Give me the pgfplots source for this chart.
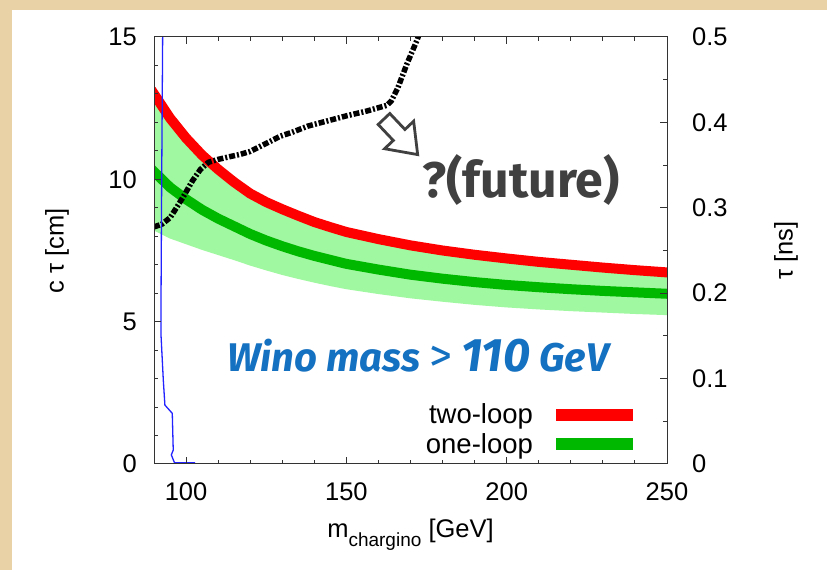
\documentclass[border=0pt]{standalone}
\usepackage{pgfplots}
\pgfplotsset{compat=1.18}
\usepackage{fontspec}
\setmainfont{Liberation Sans}
\newfontfamily\handfont{Fira Sans}
\definecolor{parch}{HTML}{E8D2A6}
\definecolor{lgreen}{HTML}{A0F8A0}
\definecolor{dgreen}{HTML}{00B800}
\definecolor{winoblue}{HTML}{1470C0}
\definecolor{futgray}{HTML}{404040}
\definecolor{axgray}{HTML}{333333}
\definecolor{lineblue}{HTML}{2222FF}

% light band: lower edge forward, then upper edge (= two-loop centre) backward
\pgfplotstableread{
m    c
90   8.20
95   7.92
100  7.72
105  7.52
110  7.34
115  7.16
120  6.97
125  6.80
130  6.64
135  6.50
140  6.37
145  6.25
150  6.14
160  5.97
170  5.82
180  5.70
190  5.59
200  5.50
210  5.43
220  5.37
230  5.32
240  5.27
250  5.23
250  6.73
240  6.81
230  6.90
220  7.00
210  7.10
200  7.22
190  7.35
180  7.50
170  7.68
160  7.90
150  8.15
145  8.32
140  8.50
135  8.72
130  8.95
125  9.20
120  9.50
115  9.90
110  10.35
105  10.85
100  11.45
95   12.15
90   13.00
}\band

\pgfplotstableread{
m    c
90   13.00
95   12.15
100  11.45
105  10.85
110  10.35
115  9.90
120  9.50
125  9.20
130  8.95
135  8.72
140  8.50
145  8.32
150  8.15
160  7.90
170  7.68
180  7.50
190  7.35
200  7.22
210  7.10
220  7.00
230  6.90
240  6.81
250  6.73
}\twoloop

\pgfplotstableread{
m    c
90   10.27
95   9.72
100  9.30
105  8.93
110  8.62
115  8.35
120  8.08
125  7.85
130  7.65
135  7.47
140  7.31
145  7.17
150  7.03
160  6.83
170  6.65
180  6.51
190  6.39
200  6.29
210  6.21
220  6.14
230  6.08
240  6.03
250  5.98
}\oneloop

\begin{document}
\begin{tikzpicture}
\fill[parch] (0pt,0pt) rectangle (827pt,570pt);
\fill[white] (12pt,0pt) rectangle (827pt,560pt);
\begin{axis}[
  scale only axis, width=513pt, height=427pt,
  at={(154pt,106pt)}, anchor=south west,
  xmin=90, xmax=250, ymin=0, ymax=15,
  axis on top,
  axis line style={axgray, line width=1pt},
  every tick/.style={axgray, line width=1pt},
  major tick length=7pt, minor tick length=4pt,
  xtick={100,150,200,250},
  minor xtick={90,110,120,130,140,160,170,180,190,210,220,230,240},
  ytick={0,5,10,15},
  minor ytick={1,2,3,4,6,7,8,9,11,12,13,14},
  xtick pos=both, xticklabel pos=left,
  ytick pos=left,
  /pgf/number format/assume math mode=true,
  tick label style={font=\fontsize{25.5}{30}\selectfont},
  xticklabel style={inner sep=0pt, yshift=-18pt},
  yticklabel style={inner sep=0pt, xshift=-17pt},
  xlabel={m\raisebox{-0.35em}{\fontsize{19}{20}\selectfont chargino} [GeV]},
  ylabel={c τ [cm]},
  label style={font=\fontsize{25.5}{30}\selectfont},
  xlabel style={at={(axis description cs:0.5,-0.165)}, anchor=center},
  ylabel style={at={(axis description cs:-0.189,0.5)}, anchor=center},
  legend style={draw=none, fill=none, inner sep=0pt,
    at={(0.934,0.019)}, anchor=south east,
    font=\fontsize{27.5}{30}\selectfont, row sep=6pt,
    nodes={inner sep=1pt}},
  legend cell align=right,
  legend plot pos=right,
]
\addplot[fill=lgreen, draw=none, forget plot] table[x=m, y=c] {\band} -- cycle;
\addplot[red, line width=10pt, line join=round, line cap=rect,
  legend image code/.code={\path (0pt,0pt); \fill[red, draw=none] (17pt,-6pt) rectangle (94pt,6pt);}]
  table[x=m, y=c] {\twoloop};
\addlegendentry{two-loop}
\addplot[dgreen, line width=10pt, line join=round, line cap=rect,
  legend image code/.code={\path (0pt,0pt); \fill[dgreen, draw=none] (17pt,-6pt) rectangle (94pt,6pt);}]
  table[x=m, y=c] {\oneloop};
\addlegendentry{one-loop}
\addplot[black, line width=5.5pt, dash pattern=on 6pt off 2pt on 2pt off 2pt, forget plot]
  coordinates {(90,8.33) (92.4,8.42) (95,8.65) (97,9.0) (99.2,9.4) (102,9.95)
  (104.5,10.35) (107,10.6) (110,10.7) (113,10.78) (117,10.88) (120,10.98)
  (123,11.15) (126,11.32) (129.5,11.52) (133,11.65) (138,11.87) (145,12.08)
  (150,12.23) (156.4,12.4) (162.6,12.6) (164,12.75) (166,13.2) (168.9,14.06)
  (172,14.88) (173,15.2)};
\addplot[lineblue, line width=1.3pt, forget plot]
  coordinates {(92.7,15) (92.4,10) (92.2,6) (92.2,4.5) (92.9,2.95) (93.4,2.07)
  (95.7,1.78) (96.0,0.49) (95.4,0.32) (96.4,0.04) (102.8,0.04)};
\node[winoblue, font=\handfont\bfseries\itshape\fontsize{40}{46}\selectfont, anchor=center]
  at (axis cs:172.3,3.79) {Wino mass {\fontseries{l}\upshape\fontsize{46}{46}\selectfont \textgreater}\ {\fontsize{47}{47}\selectfont 110} GeV};
\node[futgray, font=\handfont\bfseries\fontsize{50}{56}\selectfont, anchor=center]
  at (axis cs:204.5,9.98) {?(future)};
\end{axis}
\begin{axis}[
  scale only axis, width=513pt, height=427pt,
  at={(154pt,106pt)}, anchor=south west,
  xmin=90, xmax=250, ymin=0, ymax=0.5,
  axis x line=none, axis y line*=right,
  axis line style={axgray, line width=1pt, -},
  every tick/.style={axgray, line width=1pt},
  major tick length=7pt, minor tick length=4pt,
  ytick={0,0.1,0.2,0.3,0.4,0.5},
  minor ytick={0.05,0.15,0.25,0.35,0.45},
  /pgf/number format/assume math mode=true,
  tick label style={font=\fontsize{25.5}{30}\selectfont},
  yticklabel style={inner sep=0pt, xshift=25pt, anchor=west},
  ylabel={τ [ns]},
  label style={font=\fontsize{25.5}{30}\selectfont},
  ylabel style={at={(axis description cs:1.232,0.5)}, anchor=center, rotate=0},
]
\end{axis}
\begin{scope}[shift={(384pt,451pt)}, rotate=-46.6]
\draw[futgray, line width=2.8pt, line join=miter, fill=white]
  (0pt,-8pt) -- (22pt,-8pt) -- (22pt,-20pt) -- (49pt,0pt) -- (22pt,20pt) -- (22pt,8pt) -- (0pt,8pt) -- cycle;
\end{scope}
\end{tikzpicture}
\end{document}
